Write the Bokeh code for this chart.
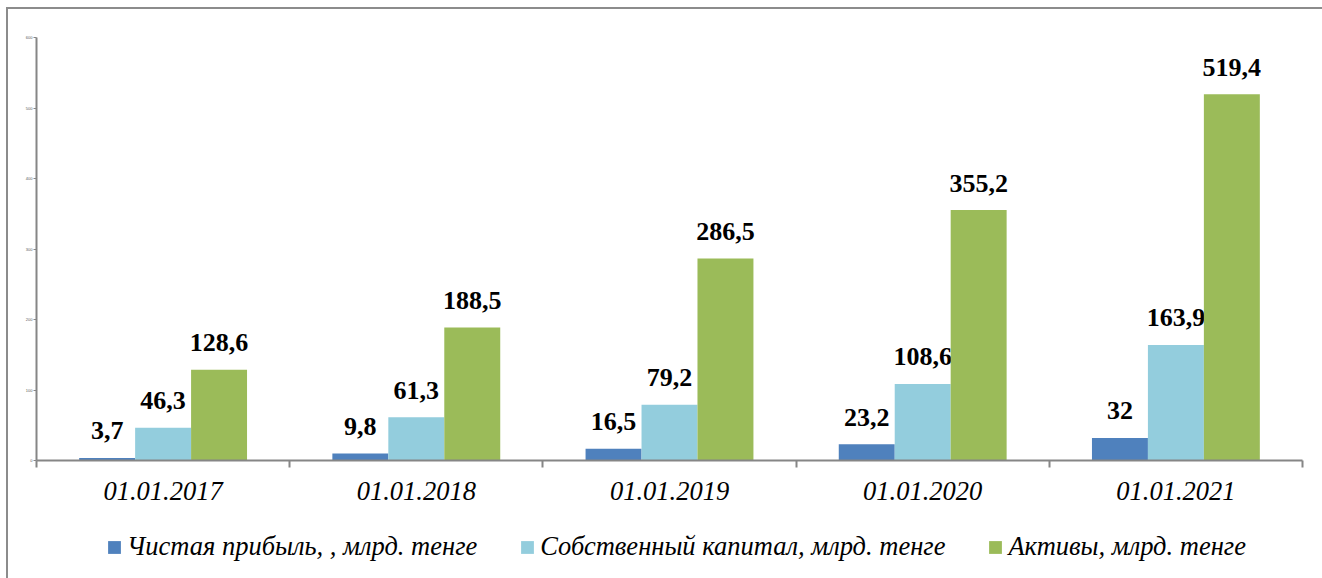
import numpy as np
from bokeh.plotting import figure
from bokeh.layouts import column
from bokeh.models import (ColumnDataSource, Range1d, FixedTicker, Legend, LegendItem)
from bokeh.core.properties import value
from bokeh.embed import file_html
from bokeh.resources import INLINE

dates = ["01.01.2017", "01.01.2018", "01.01.2019", "01.01.2020", "01.01.2021"]
profit = [3.7, 9.8, 16.5, 23.2, 32.0]
equity = [46.3, 61.3, 79.2, 108.6, 163.9]
assets = [128.6, 188.5, 286.5, 355.2, 519.4]
profit_lbl = ["3,7", "9,8", "16,5", "23,2", "32"]
equity_lbl = ["46,3", "61,3", "79,2", "108,6", "163,9"]
assets_lbl = ["128,6", "188,5", "286,5", "355,2", "519,4"]
series_names = ["Чистая прибыль, , млрд. тенге",
                "Собственный капитал, млрд. тенге",
                "Активы, млрд. тенге"]
colors = ["#4F81BD", "#93CDDD", "#9BBB59"]
y_ticks = [0, 100, 200, 300, 400, 500, 600]

BORDER = "#8c8c8c"
W = 1322
p = figure(width=W, height=520, output_backend="svg", toolbar_location=None,
           x_range=Range1d(0, 5), y_range=Range1d(0, 600),
           min_border_left=36, min_border_top=37, min_border_right=20,
           min_border_bottom=60)
p.styles = {"background": (f"linear-gradient({BORDER},{BORDER}) 6px 7px / 2px 100% no-repeat, "
                           f"linear-gradient({BORDER},{BORDER}) 6px 7px / 100% 2px no-repeat, white")}
p.border_fill_color = None
p.outline_line_color = None
p.xgrid.visible = False
p.ygrid.visible = False
p.background_fill_color = "white"

centers = np.arange(len(dates)) + 0.5
bw = 0.221
offsets = [-bw, 0.0, bw]
vals = [profit, equity, assets]
lbls = [profit_lbl, equity_lbl, assets_lbl]

sources = []
for col, off, v, lb in zip(colors, offsets, vals, lbls):
    src = ColumnDataSource(dict(x=centers + off, top=v, lbl=lb))
    sources.append(src)
    p.vbar(x="x", top="top", width=bw, source=src, fill_color=col, line_color=None)
    p.text(x="x", y="top", text="lbl", source=src, text_align="center",
           text_baseline="alphabetic", y_offset=-27,
           text_font=value("Liberation Serif"), text_font_style="bold",
           text_font_size="26px", text_color="black")

# y axis
ya = p.yaxis[0]
ya.ticker = FixedTicker(ticks=y_ticks, minor_ticks=[])
ya.axis_line_color = "#868686"
ya.axis_line_width = 2
ya.major_tick_line_color = "#868686"
ya.major_tick_out = 3
ya.major_tick_in = 0
ya.minor_tick_line_color = None
ya.major_label_text_font_size = "4px"
ya.major_label_text_color = "#595959"
ya.major_label_standoff = 1

# x axis
xa = p.xaxis[0]
xa.ticker = FixedTicker(ticks=list(centers), minor_ticks=list(range(len(dates) + 1)))
xa.major_label_overrides = {float(c): d for c, d in zip(centers, dates)}
xa.axis_line_color = "#868686"
xa.axis_line_width = 2
xa.major_tick_line_color = None
xa.major_tick_out = 0
xa.major_tick_in = 0
xa.minor_tick_line_color = "#868686"
xa.minor_tick_line_width = 2
xa.minor_tick_out = 7
xa.minor_tick_in = 0
xa.major_label_text_font = "Liberation Serif"
xa.major_label_text_font_style = "italic"
xa.major_label_text_font_size = "26.5px"
xa.major_label_text_color = "black"
xa.major_label_standoff = 14

# legend strip
lf = figure(width=W, height=58, output_backend="svg", toolbar_location=None,
            x_range=Range1d(0, W), y_range=Range1d(0, 58),
            x_axis_location=None, y_axis_location=None,
            min_border=0, min_border_left=0, min_border_right=0,
            min_border_top=0, min_border_bottom=0)
lf.styles = {"background": f"linear-gradient({BORDER},{BORDER}) 6px 0 / 2px 100% no-repeat, white"}
lf.border_fill_color = None
lf.background_fill_color = None
lf.outline_line_color = None
lf.xgrid.visible = False
lf.ygrid.visible = False

items = []
for name, col, src in zip(series_names, colors, sources):
    r = lf.vbar(x="x", top="top", width=bw, source=src, fill_color=col,
                line_color=None, visible=False)
    items.append(LegendItem(label=name, renderers=[r]))

legend = Legend(items=items, orientation="horizontal", location=(70, 16),
                label_text_font="Liberation Serif", label_text_font_style="italic",
                label_text_font_size="26.5px", label_text_color="black",
                glyph_width=16, glyph_height=16, label_standoff=5, spacing=42,
                border_line_color=None, background_fill_alpha=0, margin=0,
                padding=0, inactive_fill_alpha=0)
lf.add_layout(legend, "center")

layout = column(p, lf, spacing=0)
open("out.html", "w").write(file_html(layout, INLINE))
